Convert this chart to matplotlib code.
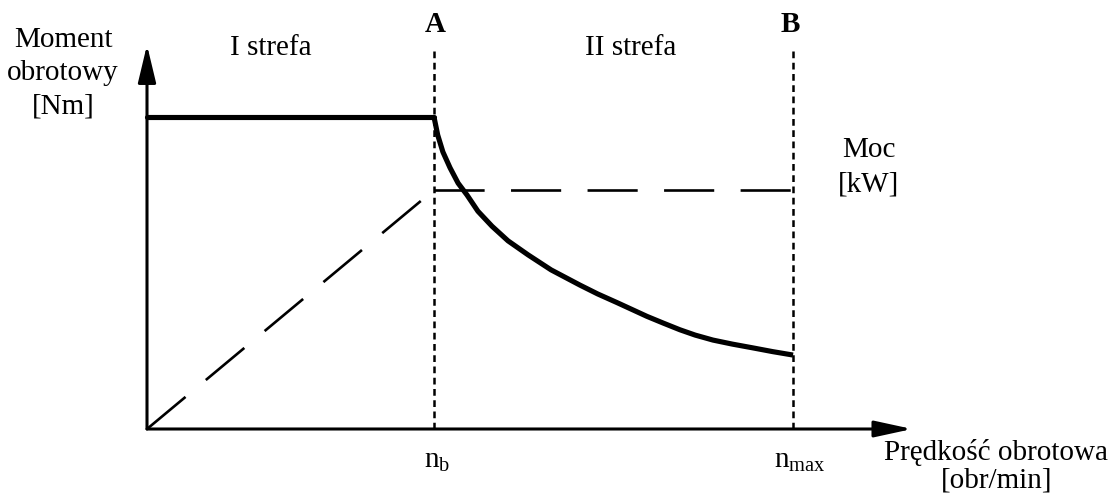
# -*- coding: utf-8 -*-
"""
Torque / power vs rotational speed characteristic (two speed zones).
Values are in relative units: n_b = 1, rated torque = 1.
"""

import matplotlib
matplotlib.use("Agg")
import matplotlib.pyplot as plt

plt.rcParams['font.family'] = ['Liberation Serif', 'DejaVu Serif']
plt.rcParams['mathtext.fontset'] = 'custom'
plt.rcParams['mathtext.rm'] = 'Liberation Serif'
plt.rcParams['mathtext.it'] = 'Liberation Serif:italic'

# Characteristic speeds
n_b = 1.0
n_max = 2.25

# Torque: constant in zone I, falling in zone II
torque_flat_n = [0.0, 1.0]
torque_flat_T = [1.0, 1.0]
torque_fall_n = [1.0, 1.013, 1.031, 1.056, 1.084, 1.115, 1.153, 1.202,
                 1.258, 1.328, 1.408, 1.509, 1.57, 1.638, 1.69, 1.742,
                 1.80, 1.857, 1.91, 1.972, 2.04, 2.111, 2.18, 2.251]
torque_fall_T = [1.0, 0.942, 0.888, 0.837, 0.788, 0.750, 0.698, 0.650,
                 0.603, 0.558, 0.510, 0.461, 0.433, 0.405, 0.383, 0.361,
                 0.339, 0.318, 0.301, 0.285, 0.272, 0.260, 0.248, 0.237]

# Power: rising in zone I, constant in zone II
power_rise_n = [0.0, 1.0]
power_rise_P = [0.0, 0.766]
power_const_n = [1.0, 2.25]
power_const_P = [0.766, 0.766]

W, H = 1111, 500
fig = plt.figure(figsize=(W / 100, H / 100), dpi=100)
ax = fig.add_axes([0, 0, 1, 1])
# origin at pixel (147, 429); 287 px per speed unit, 312 px per torque unit
ax.set_xlim(-147 / 287, (W - 147) / 287)
ax.set_ylim((429 - H) / 312, 429 / 312)
ax.axis('off')

# axes with arrows
ax.annotate('', xy=(0, 1.231), xytext=(0, 0),
            arrowprops=dict(arrowstyle='-|>,head_length=2.3,head_width=0.55',
                            mutation_scale=10, lw=2.2, color='black',
                            shrinkA=0, shrinkB=0))
ax.annotate('', xy=(2.666, 0), xytext=(0, 0),
            arrowprops=dict(arrowstyle='-|>,head_length=2.3,head_width=0.5',
                            mutation_scale=10, lw=2.2, color='black',
                            shrinkA=0, shrinkB=0))

# zone borders A and B
for xv in (n_b, n_max):
    ax.plot([xv, xv], [0, 1.224], color='black', lw=1.8,
            linestyle=(0, (2.7, 1.8)))

# power (dashed), each part starts with a dash
ax.plot(power_rise_n, power_rise_P, color='black', lw=1.9,
        linestyle=(0, (19, 10)))
ax.plot(power_const_n, power_const_P, color='black', lw=1.9,
        linestyle=(0, (19, 10)))

# torque (thick)
ax.plot(torque_flat_n, torque_flat_T, color='black', lw=3.7,
        solid_capstyle='round')
ax.plot(torque_fall_n, torque_fall_T, color='black', lw=3.7,
        solid_capstyle='butt', solid_joinstyle='round')

fs = 21


def ptext(x, y, s, **kw):
    fig.text(x / W, 1 - y / H, s, ha='center', va='baseline',
             fontsize=kw.pop('fontsize', fs), **kw)


ptext(63, 47, 'Moment')
ptext(63, 80, 'obrotowy')
ptext(63, 113, '[Nm]')
ptext(271, 55, 'I strefa')
ptext(631, 55, 'II strefa')
ptext(435, 32, 'A', fontweight='bold')
ptext(790, 32, 'B', fontweight='bold')
ptext(869, 157, 'Moc')
ptext(868, 192, '[kW]')
ptext(437, 468, r'$\mathrm{n}_{\mathrm{b}}$')
ptext(800, 468, r'$\mathrm{n}_{\mathrm{max}}$')
ptext(996, 460, 'Prędkość obrotowa')
ptext(997, 488, '[obr/min]')

fig.savefig('out.png', dpi=100)
